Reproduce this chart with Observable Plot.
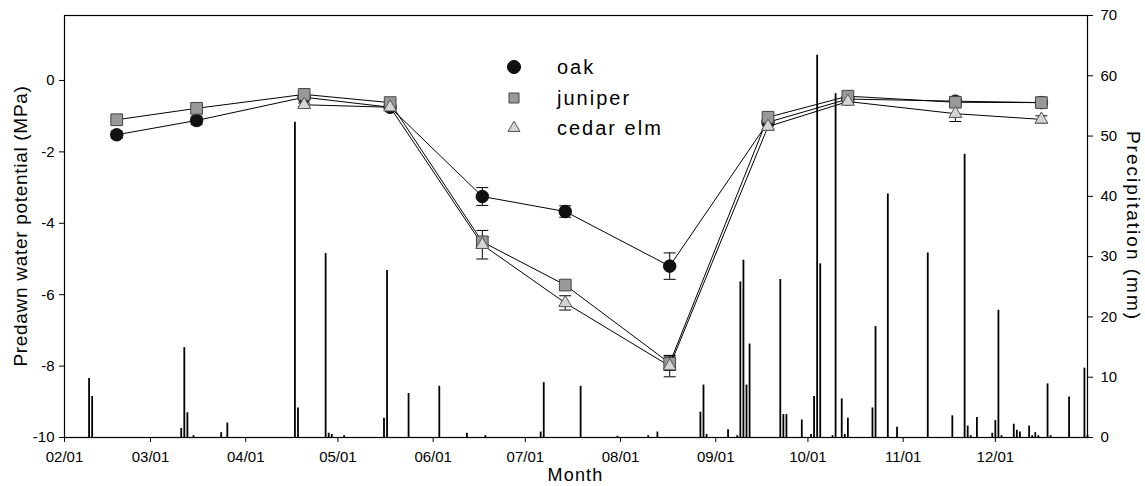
<!DOCTYPE html>
<html><head><meta charset="utf-8">
<script src="https://cdn.jsdelivr.net/npm/d3@7"></script>
<script src="https://cdn.jsdelivr.net/npm/@observablehq/plot@0.6"></script>
<style>
html,body{margin:0;padding:0;background:#fff;}
#chart{position:relative;width:1145px;height:486px;overflow:hidden;}
#chart svg{position:absolute;left:0;top:0;}
</style></head><body><div id="chart"></div>
<script>
// ---- data ----
const YEAR = 2001;
const sampleDates = ["02-18","03-16","04-20","05-18","06-17","07-14","08-17","09-18","10-14","11-18","12-16"];
const species = ["oak","juniper","cedar elm"];
const oak      = [-1.52,-1.12,-0.47,-0.75,-3.25,-3.67,-5.20,-1.17,-0.52,-0.58,-0.62];
const oakSE    = [ 0.10, 0.12, 0.05, 0.05, 0.25, 0.16, 0.37, 0.10, 0.05, 0.08, 0.05];
const juniper  = [-1.10,-0.78,-0.39,-0.62,-4.52,-5.73,-7.92,-1.03,-0.44,-0.61,-0.62];
const juniperSE= [ 0.05, 0.05, 0.05, 0.05, 0.15, 0.10, 0.20, 0.10, 0.05, 0.05, 0.05];
const cedarElm = [null, null, -0.68,-0.75,-4.60,-6.23,-8.00,-1.29,-0.59,-0.93,-1.09];
const cedarSE  = [null, null,  0.05, 0.05, 0.40, 0.20, 0.30, 0.10, 0.05, 0.22, 0.10];

const precipDates = ["02-09","02-10","03-11","03-12","03-13","03-15","03-24","03-26","04-17","04-18",
  "04-27","04-28","04-29","05-03","05-16","05-17","05-24","06-03","06-12","06-18",
  "07-06","07-07","07-19","07-31","08-10","08-13","08-27","08-28","08-29","09-05",
  "09-08","09-09","09-10","09-11","09-12","09-22","09-23","09-24","09-29","10-02",
  "10-03","10-04","10-05","10-09","10-10","10-12","10-13","10-14","10-22","10-23",
  "10-27","10-30","11-09","11-17","11-21","11-22","11-23","11-25","11-30","12-01",
  "12-02","12-03","12-07","12-08","12-09","12-12","12-13","12-14","12-15","12-18",
  "12-19","12-25","12-30","12-31"];
const precipMM = [9.8,6.8,1.5,14.9,4.1,0.3,0.8,2.4,52.3,4.9,
  30.5,0.7,0.5,0.3,3.2,27.7,7.3,8.5,0.7,0.3,
  0.9,9.1,8.5,0.2,0.3,0.9,4.2,8.7,0.5,1.3,
  0.3,25.8,29.4,8.7,15.5,26.2,3.8,3.8,2.9,0.5,
  6.8,63.4,28.8,0.3,57.0,6.4,0.5,3.2,4.9,18.4,
  40.4,1.7,30.6,3.6,47.0,1.9,0.3,3.3,0.7,2.8,
  21.1,0.3,2.2,1.2,0.9,1.9,0.3,0.8,0.3,8.9,
  0.3,6.7,11.5,0.4];

const leftTicks = [0,-2,-4,-6,-8,-10];
const rightTicks = [0,10,20,30,40,50,60,70];

// ---- build tables ----
const parse = s => new Date(`${YEAR}-${s}T00:00:00Z`);
const seriesVals = [oak, juniper, cedarElm];
const seriesSE = [oakSE, juniperSE, cedarSE];
const potential = [];
species.forEach((sp, i) => {
  sampleDates.forEach((d, j) => {
    const v = seriesVals[i][j];
    if (v == null) return;
    potential.push({species: sp, date: parse(d), value: v, se: seriesSE[i][j]});
  });
});
const precip = precipDates.map((d, i) => ({date: parse(d), mm: precipMM[i]}));

const W = 1145, H = 486;
const M = {marginLeft: 64, marginRight: 58, marginTop: 15, marginBottom: 49};
const xDomain = [new Date(Date.UTC(YEAR,1,1)), new Date(Date.UTC(YEAR,11,31))];
const monthTicks = d3.utcMonths(xDomain[0], xDomain[1]);
const FONT = "'Liberation Sans', Arial, Helvetica, sans-serif";
const baseStyle = {background: "transparent", fontFamily: FONT, fontSize: "15px", color: "#000", overflow: "visible"};

const capSymbol = {draw(ctx, size){ const r = Math.sqrt(size/Math.PI); ctx.moveTo(-r,0); ctx.lineTo(r,0); }};

// ---- precipitation layer (right axis) ----
const precipPlot = Plot.plot({
  width: W, height: H, ...M, style: baseStyle,
  x: {type: "utc", domain: xDomain, axis: null},
  y: {domain: [0, 70], axis: null},
  marks: [
    Plot.ruleX(precip, {x: "date", y1: 0, y2: "mm", stroke: "#000", strokeWidth: 1.8}),
    Plot.axisY({anchor: "right", ticks: rightTicks, tickSize: 5, tickPadding: 8, label: null}),
  ]
});

// ---- water potential layer ----
const byS = sp => potential.filter(d => d.species === sp);
const potPlot = Plot.plot({
  width: W, height: H, ...M, style: baseStyle,
  x: {type: "utc", domain: xDomain},
  y: {domain: [-10, 1.82]},
  marks: [
    Plot.frame({stroke: "#000", strokeWidth: 1.2}),
    Plot.axisX({ticks: monthTicks, tickFormat: d3.utcFormat("%m/%d"), tickSize: 5, tickPadding: 9, label: null}),
    Plot.axisY({ticks: leftTicks, tickFormat: d => String(d), tickSize: 5, tickPadding: 5, label: null}),
    Plot.line(potential, {x: "date", y: "value", z: "species", stroke: "#000", strokeWidth: 1}),
    Plot.ruleX(potential, {x: "date", y1: d => d.value - d.se, y2: d => d.value + d.se, stroke: "#000", strokeWidth: 1}),
    Plot.dot(potential, {x: "date", y: d => d.value - d.se, symbol: capSymbol, r: 6, fill: "none", stroke: "#000", strokeWidth: 1}),
    Plot.dot(potential, {x: "date", y: d => d.value + d.se, symbol: capSymbol, r: 6, fill: "none", stroke: "#000", strokeWidth: 1}),
    Plot.dot(byS("oak"), {x: "date", y: "value", symbol: "circle", r: 6.3, fill: "#111", stroke: "#000", strokeWidth: 0.8}),
    Plot.dot(byS("juniper"), {x: "date", y: "value", symbol: "square", r: 6.6, fill: "#999", stroke: "#444", strokeWidth: 1}),
    Plot.dot(byS("cedar elm"), {x: "date", y: "value", symbol: "triangle", r: 4.8, fill: "#d4d4d4", stroke: "#555", strokeWidth: 1}),
  ]
});

const chart = document.getElementById("chart");
chart.appendChild(precipPlot);
chart.appendChild(potPlot);

// ---- titles and legend (text) ----
const svg = d3.select(potPlot);
const plotCenterY = (M.marginTop + (H - M.marginBottom)) / 2;
svg.append("text").attr("x", (M.marginLeft + W - M.marginRight) / 2).attr("y", 481)
  .attr("text-anchor", "middle").attr("font-size", 18).attr("letter-spacing", 1.2)
  .attr("font-family", FONT).attr("fill", "#000").text("Month");
svg.append("text").attr("transform", `translate(27,${plotCenterY}) rotate(-90)`)
  .attr("text-anchor", "middle").attr("font-size", 19).attr("letter-spacing", 0.7)
  .attr("font-family", FONT).attr("fill", "#000").text("Predawn water potential (MPa)");
svg.append("text").attr("transform", `translate(1127,${plotCenterY}) rotate(90)`)
  .attr("text-anchor", "middle").attr("font-size", 19).attr("letter-spacing", 2)
  .attr("font-family", FONT).attr("fill", "#000").text("Precipitation (mm)");

const legendItems = [
  {name: species[0], sym: d3.symbolCircle, size: Math.PI*6.5*6.5, fill: "#111", stroke: "#000", y: 67},
  {name: species[1], sym: d3.symbolSquare, size: 100, fill: "#999", stroke: "#444", y: 98},
  {name: species[2], sym: d3.symbolTriangle, size: 62, fill: "#d4d4d4", stroke: "#555", y: 128},
];
const lg = svg.append("g");
legendItems.forEach(it => {
  lg.append("path").attr("d", d3.symbol(it.sym, it.size)()).attr("transform", `translate(514,${it.y})`)
    .attr("fill", it.fill).attr("stroke", it.stroke);
  lg.append("text").attr("x", 557).attr("y", it.y).attr("dy", "0.35em").attr("text-anchor", "start")
    .attr("font-size", 20).attr("letter-spacing", 2).attr("font-family", FONT).attr("fill", "#000").text(it.name);
});
</script>
</body></html>
